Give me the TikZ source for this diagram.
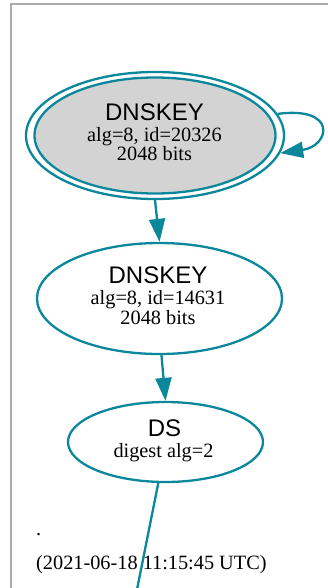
\documentclass[tikz,border=0pt]{standalone}
\usepackage{fontspec}
\setmainfont{Liberation Serif}
\setsansfont{Liberation Sans}
\usetikzlibrary{shapes.geometric,arrows.meta}
\definecolor{dteal}{HTML}{0A879A}
\definecolor{framegray}{HTML}{ABABAB}
\definecolor{keyfill}{HTML}{D3D3D3}
\tikzset{
  ell/.style={ellipse, draw=dteal, line width=2.3pt, inner sep=0pt},
  head/.style={font=\sffamily\fontsize{24}{24}\selectfont, anchor=base, inner sep=0pt},
  sub/.style={font=\fontsize{20.3}{20.3}\selectfont, anchor=base, inner sep=0pt, text depth=1.5pt},
  edge/.style={draw=dteal, line width=2.3pt},
  arr/.style={edge, -{Triangle[length=23pt, width=16pt]}},
}
\begin{document}
\begin{tikzpicture}[x=1pt, y=-1pt]
\useasboundingbox (0,0) rectangle (327,588);
% frame
\draw[framegray, line width=2.2pt] (11,600) -- (11,4.3) -- (340,4.3);
% node 1 (double ellipse)
\node[ell, minimum width=258pt, minimum height=127pt] (k1o) at (155,135.5) {};
\node[ell, fill=keyfill, minimum width=241pt, minimum height=116pt] (k1) at (155,135.5) {};
\node[head] (k1a) at (154.5,120.5) {DNSKEY};
\node[sub] (k1b) at (154.5,141.5) {alg=8, id=20326};
\node[sub] (k1c) at (154.5,160.8) {2048 bits};
% node 2
\node[ell, minimum width=245pt, minimum height=111pt] (k2) at (159.5,298.5) {};
\node[head] (k2a) at (158,283.5) {DNSKEY};
\node[sub] (k2b) at (158,304.5) {alg=8, id=14631};
\node[sub] (k2c) at (158,324) {2048 bits};
% node 3
\node[ell, minimum width=195pt, minimum height=80pt] (k3) at (165.5,442) {};
\node[head] (k3a) at (164.5,436.5) {DS};
\node[sub] (k3b) at (163.5,457) {digest alg=2};
% edges
\draw[arr] (k1o.10) .. controls (338,106) and (330,146) .. (k1o.-8.5);
\draw[arr] (k1o.south) -- (k2.north);
\draw[arr] (k2.-88) -- (k3.north);
\coordinate (off) at (136.5,592);
\draw[edge] (k3.-100) -- (off);
% footer
\node[sub, anchor=base west] (dot) at (36,535) {.};
\node[sub, anchor=base west] (ts) at (36,569) {(2021-06-18 11:15:45 UTC)};
\end{tikzpicture}
\end{document}
